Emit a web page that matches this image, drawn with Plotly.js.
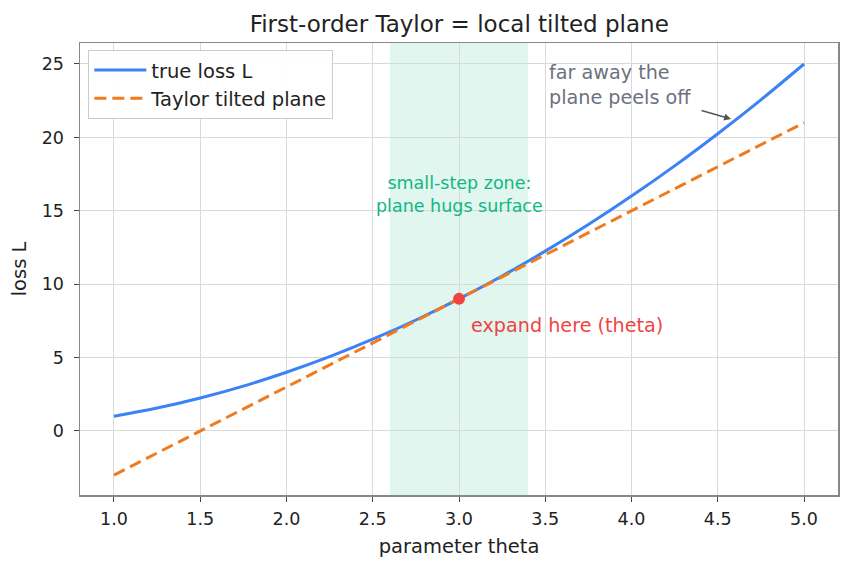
<!DOCTYPE html>
<html><head><meta charset="utf-8">
<script src="https://cdn.plot.ly/plotly-3.0.1.min.js"></script>
<style>html,body{margin:0;padding:0;background:#fff}#c{width:852px;height:569px}</style>
</head><body><div id="c"></div>
<script>
const theta = [1.0,1.25,1.5,1.75,2.0,2.25,2.5,2.75,3.0,3.25,3.5,3.75,4.0,4.25,4.5,4.75,5.0];
const trueLoss = [1.0,1.56,2.25,3.06,4.0,5.06,6.25,7.56,9.0,10.56,12.25,14.06,16.0,18.06,20.25,22.56,25.0];
const planeTheta = [1.0,5.0];
const planeLoss = [-3.0,21.0];
const expandTheta = [3.0];
const expandLoss = [9.0];
const zone = [2.6,3.4];
const xTicks = [1.0,1.5,2.0,2.5,3.0,3.5,4.0,4.5,5.0];
const xTickText = ["1.0","1.5","2.0","2.5","3.0","3.5","4.0","4.5","5.0"];
const yTicks = [0,5,10,15,20,25];
const labels = {title:"First-order Taylor = local tilted plane", x:"parameter theta", y:"loss L",
  trueName:"true loss L", planeName:"Taylor tilted plane",
  zone:"small-step zone:<br>plane hugs surface", expand:"expand here (theta)", far:"far away the<br>plane peels off"};
const arrowTip = {theta:4.577, loss:21.25};

const font = "DejaVu Sans, sans-serif";
const traces = [
  {x:theta, y:trueLoss, mode:"lines", name:labels.trueName, line:{color:"#3b82f6", width:3, shape:"spline"}},
  {x:planeTheta, y:planeLoss, mode:"lines", name:labels.planeName, line:{color:"#f07b1e", width:3, dash:"12px,6px"}},
  {x:expandTheta, y:expandLoss, mode:"markers", showlegend:false, marker:{color:"#ef4444", size:12}}
];
const axisCommon = {showline:true, mirror:true, linecolor:"#888", linewidth:1.5, gridcolor:"#d9d9d9", gridwidth:1,
  zeroline:false, ticks:"outside", ticklen:5, tickcolor:"#444", tickfont:{family:font, size:17.5, color:"#222"}};
const layout = {
  width:852, height:569, paper_bgcolor:"#fff", plot_bgcolor:"#fff",
  margin:{l:80, r:14, t:43, b:74},
  font:{family:font, color:"#222"},
  title:{text:labels.title, x:0.539, xanchor:"center", y:0.958, yanchor:"middle", font:{family:font, size:23, color:"#222"}},
  xaxis:Object.assign({}, axisCommon, {range:[0.803,5.197], tickvals:xTicks, ticktext:xTickText, automargin:false, ticklabelstandoff:2,
    title:{text:labels.x, font:{family:font, size:19.5, color:"#222"}, standoff:12}}),
  yaxis:Object.assign({}, axisCommon, {range:[-4.36,26.43], tickvals:yTicks, automargin:false, ticklabelstandoff:6,
    title:{text:labels.y, font:{family:font, size:19.5, color:"#222"}, standoff:10}}),
  legend:{x:0.011, y:0.985, xanchor:"left", yanchor:"top", bgcolor:"rgba(255,255,255,0.9)", bordercolor:"#ccc", borderwidth:1,
    font:{family:font, size:19.5, color:"#222"}, tracegroupgap:2, itemwidth:52},
  shapes:[{type:"rect", xref:"x", yref:"paper", x0:zone[0], x1:zone[1], y0:0, y1:1, fillcolor:"rgba(16,185,129,0.13)", line:{width:0}, layer:"below"}],
  annotations:[
    {x:(zone[0]+zone[1])/2, y:16.1, xref:"x", yref:"y", text:labels.zone, showarrow:false, font:{family:font, size:17.5, color:"#10b981"}, align:"center"},
    {x:3.06, y:7.2, xref:"x", yref:"y", text:labels.expand, showarrow:false, xanchor:"left", font:{family:font, size:19.2, color:"#ef4444"}},
    {x:3.512, y:23.6, xref:"x", yref:"y", text:labels.far, showarrow:false, xanchor:"left", yanchor:"middle", align:"left", font:{family:font, size:19.2, color:"#6b7280"}},
    {x:arrowTip.theta, y:arrowTip.loss, xref:"x", yref:"y", text:"", showarrow:true, arrowhead:2, arrowsize:1, arrowwidth:1.4, arrowcolor:"#555",
     ax:-31, ay:-9}
  ]
};
Plotly.newPlot("c", traces, layout, {displayModeBar:false, staticPlot:true});
</script></body></html>
